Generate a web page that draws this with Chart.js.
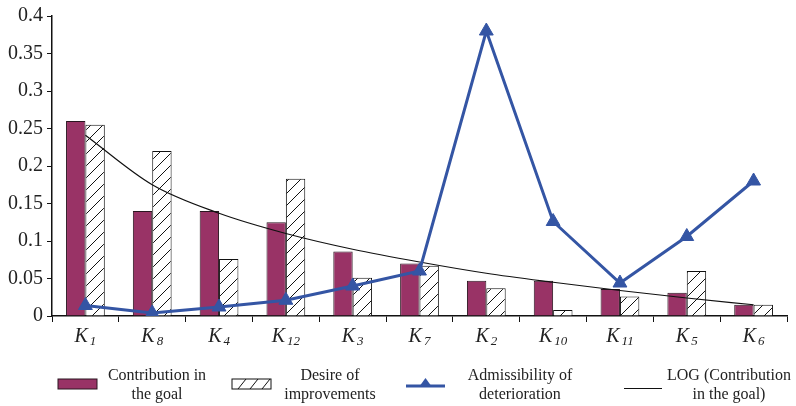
<!DOCTYPE html>
<html>
<head>
<meta charset="utf-8">
<script src="https://cdn.jsdelivr.net/npm/chart.js@4.4.1/dist/chart.umd.min.js"></script>
<style>
  html, body { margin: 0; padding: 0; background: #fff; }
  #wrap { position: relative; width: 796px; height: 406px; }
  #chart { position: absolute; left: 0; top: 0; }
  .leg { position: absolute; font-family: "Liberation Serif", "Times New Roman", serif; font-size: 16px; line-height: 19px; color: #222; text-align: center; white-space: nowrap; }
  .ico { position: absolute; }
</style>
</head>
<body>
<div id="wrap">
  <canvas id="chart" width="796" height="406"></canvas>

  <svg class="ico" style="left:57px;top:378px" width="42" height="13">
    <rect x="1" y="1" width="39" height="10" fill="#993366" stroke="#2a1620" stroke-width="1"/>
  </svg>
  <div class="leg" style="left:157px;top:365px;transform:translateX(-50%)">Contribution in<br>the goal</div>

  <svg class="ico" style="left:231px;top:378px" width="42" height="13">
    <rect x="1" y="1" width="39" height="10" fill="#fff" stroke="#111" stroke-width="1"/>
    <line x1="7" y1="11" x2="15" y2="1" stroke="#111" stroke-width="1"/>
    <line x1="19" y1="11" x2="27" y2="1" stroke="#111" stroke-width="1"/>
    <line x1="31" y1="11" x2="39" y2="1" stroke="#111" stroke-width="1"/>
  </svg>
  <div class="leg" style="left:330px;top:365px;transform:translateX(-50%)">Desire of<br>improvements</div>

  <svg class="ico" style="left:405px;top:376px" width="42" height="16">
    <line x1="1" y1="10" x2="40" y2="10" stroke="#3455a4" stroke-width="3"/>
    <polygon points="20.5,2 27,11 14,11" fill="#3455a4"/>
  </svg>
  <div class="leg" style="left:520px;top:365px;transform:translateX(-50%)">Admissibility of<br>deterioration</div>

  <svg class="ico" style="left:623px;top:383px" width="42" height="10">
    <line x1="1" y1="5.5" x2="39" y2="5.5" stroke="#111" stroke-width="1.2"/>
  </svg>
  <div class="leg" style="left:729px;top:365px;transform:translateX(-50%)">LOG (Contribution<br>in the goal)</div>
</div>

<script>
// criteria along the x axis, in ranking order
const categories = ['K1', 'K8', 'K4', 'K12', 'K3', 'K7', 'K2', 'K10', 'K11', 'K5', 'K6'];
const contribution = [0.26, 0.14, 0.14, 0.125, 0.086, 0.07, 0.047, 0.047, 0.036, 0.031, 0.015];
const desire = [0.255, 0.22, 0.076, 0.183, 0.051, 0.067, 0.037, 0.008, 0.026, 0.06, 0.015];
const admissibility = [0.014, 0.004, 0.012, 0.021, 0.04, 0.06, 0.38, 0.126, 0.044, 0.106, 0.18];
const logTrend = [0.241, 0.175, 0.137, 0.11, 0.089, 0.072, 0.057, 0.045, 0.034, 0.024, 0.015];
const yMax = 0.4;
const yStep = 0.05;

// diagonal hatch fill for the "desire" bars
function hatch() {
    var c = document.createElement('canvas');
    c.width = 12; c.height = 12;
    var g = c.getContext('2d');
    g.fillStyle = '#fff';
    g.fillRect(0, 0, 12, 12);
    g.strokeStyle = '#111';
    g.lineWidth = 1;
    g.beginPath();
    g.moveTo(0, 12); g.lineTo(12, 0);
    g.moveTo(-6, 6); g.lineTo(6, -6);
    g.moveTo(6, 18); g.lineTo(18, 6);
    g.stroke();
    return g.createPattern(c, 'repeat');
}

// K labels with subscript numbers under each category
var subLabels = {
    id: 'subLabels',
    afterDraw: function (chart) {
        var ctx = chart.ctx;
        var xs = chart.scales.x;
        ctx.save();
        ctx.fillStyle = '#222';
        ctx.textBaseline = 'alphabetic';
        categories.forEach(function (c, i) {
            var main = c.charAt(0), sub = c.slice(1);
            ctx.font = 'italic 20px "Liberation Serif"';
            var w1 = ctx.measureText(main).width;
            ctx.font = 'italic 13px "Liberation Serif"';
            var w2 = ctx.measureText(sub).width;
            var gap = 2;
            var x0 = xs.getPixelForValue(i) - (w1 + gap + w2) / 2;
            ctx.font = 'italic 20px "Liberation Serif"';
            ctx.fillText(main, x0, 342);
            ctx.font = 'italic 13px "Liberation Serif"';
            ctx.fillText(sub, x0 + w1 + gap, 345);
        });
        ctx.restore();
    }
};

var ctx = document.getElementById('chart').getContext('2d');
var chart = new Chart(ctx, {
    type: 'bar',
    data: {
        labels: categories,
        datasets: [{
            type: 'line',
            label: 'Admissibility of deterioration',
            data: admissibility,
            borderColor: '#3455a4',
            backgroundColor: '#3455a4',
            borderWidth: 3,
            pointStyle: 'triangle',
            pointRadius: 8,
            pointBorderWidth: 1,
            tension: 0,
            order: 0
        }, {
            type: 'line',
            label: 'LOG (Contribution in the goal)',
            data: logTrend,
            borderColor: '#111',
            borderWidth: 1.2,
            pointRadius: 0,
            cubicInterpolationMode: 'monotone',
            order: 1
        }, {
            label: 'Contribution in the goal',
            data: contribution,
            backgroundColor: '#993366',
            borderColor: '#2a1620',
            borderWidth: 1,
            categoryPercentage: 0.58,
            barPercentage: 1.0,
            order: 2
        }, {
            label: 'Desire of improvements',
            data: desire,
            backgroundColor: hatch(),
            borderColor: '#111',
            borderWidth: 1,
            categoryPercentage: 0.58,
            barPercentage: 1.0,
            order: 2
        }]
    },
    options: {
        responsive: false,
        animation: false,
        devicePixelRatio: 1,
        layout: { padding: { left: 0, right: 6, top: 16, bottom: 0 } },
        plugins: {
            legend: { display: false },
            tooltip: { enabled: false }
        },
        scales: {
            x: {
                afterFit: function (s) { s.height = 90; },
                grid: { display: true, drawOnChartArea: false, offset: true, tickLength: 6, color: '#111', lineWidth: 1 },
                border: { color: '#111', width: 1.5 },
                ticks: { display: false }
            },
            y: {
                min: 0,
                max: yMax,
                afterFit: function (s) { s.width = 52; },
                grid: { display: true, drawOnChartArea: false, tickLength: 5, color: '#111', lineWidth: 1 },
                border: { color: '#111', width: 1.5 },
                ticks: {
                    stepSize: yStep,
                    padding: 4,
                    color: '#222',
                    font: { family: '"Liberation Serif"', size: 20 },
                    callback: function (v) { return String(+v.toFixed(2)); }
                }
            }
        }
    },
    plugins: [subLabels]
});
</script>
</body>
</html>
